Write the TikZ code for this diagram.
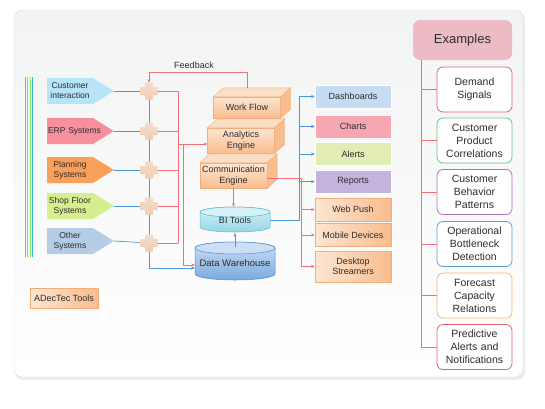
\documentclass[tikz,border=0pt]{standalone}
\usepackage{fontspec}
\setmainfont{Liberation Sans}
\usetikzlibrary{arrows.meta,positioning,calc,shapes.symbols}
\definecolor{cText}{RGB}{45,45,45}
\definecolor{cPanel}{RGB}{242,243,243}
\definecolor{cBorder}{RGB}{218,218,218}
\definecolor{cLBlue}{RGB}{74,150,214}
\definecolor{cLRed}{RGB}{240,112,120}
\definecolor{cCust}{RGB}{182,228,248}
\definecolor{cErp}{RGB}{246,144,157}
\definecolor{cPlan}{RGB}{249,160,90}
\definecolor{cShop}{RGB}{213,238,142}
\definecolor{cOther}{RGB}{181,204,230}
\definecolor{cPlus}{RGB}{240,205,178}
\definecolor{cOrgLt}{RGB}{253,230,210}
\definecolor{cOrgDk}{RGB}{249,188,142}
\definecolor{cOrgLine}{RGB}{244,172,122}
\definecolor{cDash}{RGB}{197,220,243}
\definecolor{cChart}{RGB}{247,166,178}
\definecolor{cAlert}{RGB}{226,237,182}
\definecolor{cRep}{RGB}{196,180,221}
\definecolor{cExHead}{RGB}{237,187,195}
\definecolor{cExRed}{RGB}{226,98,112}
\definecolor{cExGreen}{RGB}{108,190,140}
\definecolor{cExPurple}{RGB}{178,112,192}
\definecolor{cExBlue}{RGB}{92,160,216}
\definecolor{cExAmber}{RGB}{246,184,110}
\definecolor{cBiTop}{RGB}{214,242,246}
\definecolor{cBiBody}{RGB}{150,214,228}
\definecolor{cBiLine}{RGB}{92,182,204}
\definecolor{cDwTop}{RGB}{205,223,245}
\definecolor{cDwBody}{RGB}{122,170,222}
\definecolor{cDwLine}{RGB}{76,140,206}
\tikzset{
	srcbox/.style={signal, signal to=east, signal pointer angle=64, fill=#1,
		minimum height=26, text width=44, inner xsep=1, inner ysep=0,
		align=center, font=\fontsize{8.5}{10}\selectfont, text=cText},
	cubebox/.style={draw=cOrgLine, line width=0.4pt, top color=cOrgLt,
		bottom color=cOrgDk, minimum width=67, align=center, inner sep=1,
		font=\fontsize{9}{10.5}\selectfont, text=cText},
	cubetop/.style={draw=cOrgLine, line width=0.4pt, fill=cOrgLt!80!cOrgDk},
	cubeside/.style={draw=cOrgLine, line width=0.4pt, fill=cOrgDk},
	outbox/.style={fill=#1, draw=white, line width=0.6pt, minimum width=76,
		minimum height=23, align=center, inner sep=1,
		font=\fontsize{9}{10.5}\selectfont, text=cText},
	outorg/.style={draw=cOrgLine, line width=0.5pt, left color=cOrgLt,
		right color=cOrgDk, minimum width=76, minimum height=23, align=center,
		inner sep=1, font=\fontsize{9}{10.5}\selectfont, text=cText},
	exbox/.style={draw=#1, line width=0.8pt, rounded corners=6pt, fill=white,
		minimum width=75, minimum height=45, text width=70, align=center,
		inner sep=0, font=\fontsize{10.5}{13}\selectfont, text=cText},
	plusfill/.style={top color=cPlus!70!white, bottom color=cPlus},
	blarr/.style={-{Stealth[length=3.5pt,width=3pt]}, line width=0.7pt, draw=cLBlue},
	rdarr/.style={-{Stealth[length=3.5pt,width=3pt]}, line width=0.7pt, draw=cLRed},
	blline/.style={line width=0.7pt, draw=cLBlue},
	rdline/.style={line width=0.7pt, draw=cLRed},
}
\begin{document}
\begin{tikzpicture}[x=1pt, y=-1pt]
	\useasboundingbox (0,0) rectangle (545,408);
	% panel
	\fill[black!7, rounded corners=8pt] (15,12) rectangle (525,380);
	\path[top color=cPanel, middle color=cPanel, bottom color=white,
		draw=cBorder, rounded corners=8pt] (14,10) rectangle (523,377);
	\draw[line width=0.9pt, cErp!90!red] (25,77) -- (25,257);
	\draw[line width=0.9pt, cPlan] (27.5,77) -- (27.5,257);
	\draw[line width=0.9pt, cShop!60!green] (30,77) -- (30,257);
	\draw[line width=0.9pt, cLBlue!70!cyan] (32.5,77) -- (32.5,257);

	% sources
	\node[srcbox=cCust] (s1) at (70,91) {Customer\\interaction};
	\node[srcbox=cErp] (s2) at (70,131) {\mbox{ERP Systems}};
	\node[srcbox=cPlan] (s3) at (70,170) {Planning\\Systems};
	\node[srcbox=cShop] (s4) at (70,206) {Shop Floor\\Systems};
	\node[srcbox=cOther] (s5) at (70,241) {Other\\Systems};
	\node[inner sep=0, minimum size=16] (j1) at (149,91) {};
	\node[inner sep=0, minimum size=16] (j2) at (149,131) {};
	\node[inner sep=0, minimum size=16] (j3) at (149,170) {};
	\node[inner sep=0, minimum size=16] (j4) at (149,206) {};
	\node[inner sep=0, minimum size=16] (j5) at (149,243) {};

	% engines
	\node[cubebox, minimum height=21] (wf) at (247,107.5) {Work Flow};
	\draw[cubetop] (wf.north west) -- ++(10,-9) -- ($(wf.north east)+(10,-9)$) -- (wf.north east) -- cycle;
	\draw[cubeside] (wf.north east) -- ++(10,-9) -- ($(wf.south east)+(10,-9)$) -- (wf.south east) -- cycle;
	\node[cubebox, minimum height=25] (ae) at (241,140.5) {Analytics\\Engine};
	\draw[cubetop] (ae.north west) -- ++(10,-9) -- ($(ae.north east)+(10,-9)$) -- (ae.north east) -- cycle;
	\draw[cubeside] (ae.north east) -- ++(10,-9) -- ($(ae.south east)+(10,-9)$) -- (ae.south east) -- cycle;
	\node[cubebox, minimum height=25] (ce) at (233.5,175.5) {Communication\\Engine};
	\draw[cubetop] (ce.north west) -- ++(10,-9) -- ($(ce.north east)+(10,-9)$) -- (ce.north east) -- cycle;
	\draw[cubeside] (ce.north east) -- ++(10,-9) -- ($(ce.south east)+(10,-9)$) -- (ce.south east) -- cycle;

	% cylinders
	\path[top color=cBiTop, bottom color=cBiBody, draw=cBiLine, line width=0.5pt]
		(200,212) -- (200,227) arc[start angle=180, end angle=360, x radius=35pt, y radius=5pt]
		-- (270,212) arc[start angle=0, end angle=180, x radius=35pt, y radius=5pt] -- cycle;
	\draw[fill=cBiTop, draw=cBiLine, line width=0.5pt] (235,212) ellipse[x radius=35pt, y radius=5pt];
	\node[minimum width=70, minimum height=26, inner sep=0,
		font=\fontsize{9}{10.5}\selectfont, text=cText] (bi) at (235,220) {BI Tools};
	\path[top color=cDwTop, bottom color=cDwBody, draw=cDwLine, line width=0.5pt]
		(195,248) -- (195,274) arc[start angle=180, end angle=360, x radius=40pt, y radius=6pt]
		-- (275,248) arc[start angle=0, end angle=180, x radius=40pt, y radius=6pt] -- cycle;
	\draw[fill=cDwTop, draw=cDwLine, line width=0.5pt] (235,248) ellipse[x radius=40pt, y radius=6pt];
	\node[minimum width=80, minimum height=32, inner sep=0,
		font=\fontsize{9.5}{11}\selectfont, text=cText] (dw) at (235,263) {Data Warehouse};

	% outputs
	\node[outbox=cDash] (db) at (353,96.5) {Dashboards};
	\node[outbox=cChart] (ch) at (353,126.5) {Charts};
	\node[outbox=cAlert] (al) at (353,154) {Alerts};
	\node[outbox=cRep] (rp) at (353,181.5) {Reports};
	\node[outorg] (wp) at (353,209.5) {Web Push};
	\node[outorg] (md) at (353,235) {Mobile Devices};
	\node[outorg, minimum height=31] (ds) at (353,266.5) {Desktop\\Streamers};

	\node[outorg, minimum width=68, minimum height=20] (tools) at (64,298) {ADecTec Tools};

	% connectors
	\coordinate (rv1) at (178,91);
	\coordinate (rv2) at (178,243);
	\coordinate (ra) at (178,144);
	\coordinate (rd) at (183,144);
	\foreach \n in {1,...,5}{
		\draw[blline] (s\n.east) -- (j\n);
		\draw[rdline] (j\n) -- (j\n -| rv1);
	}
	\draw[rdline] (rv1) -- (rv2);
	\draw[rdarr] (ra) -- (ra -| ae.west);
	\draw[rdarr] (rd) |- ($(dw.west)+(0,2)$);
	\draw[blarr] (j1) |- ($(dw.west)+(0,5)$);
	\draw[rdarr] ($(wf.north)+(0,-9)$) -- ++(0,-15) -| (j1.north);
	\node[font=\fontsize{9}{10.5}\selectfont, text=cText] (fb) at (194,65) {Feedback};
	\foreach \n in {1,...,5}
		\path[plusfill] ($(j\n)+(-4,-8.5)$) rectangle ($(j\n)+(4,8.5)$)
			($(j\n)+(-8.5,-4)$) rectangle ($(j\n)+(8.5,4)$);
	\draw[rdarr] (ce.south) -- (ce.south |- bi.north);
	\draw[blarr] (dw.north) -- (bi.south);

	\coordinate (bb) at (299,96.5);
	\draw[blline] (bi.east) -| (bb);
	\foreach \b in {db,ch,al,rp}
		\draw[blarr] (bb |- \b.west) -- (\b.west);
	\coordinate (rb) at (301,266.5);
	\draw[rdline] ($(ce.east)+(0,3)$) -| (rb);
	\foreach \b in {wp,md,ds}
		\draw[rdarr] (rb |- \b.west) -- (\b.west);

	% examples
	\node[fill=cExHead, rounded corners=7pt, minimum width=99, minimum height=40,
		font=\fontsize{13}{15}\selectfont, text=cText] (ex) at (462.5,40) {Examples};
	\node[exbox=cExRed] (e1) at (474.5,89.5) {Demand\\Signals};
	\node[exbox=cExGreen] (e2) at (474.5,140.5) {Customer\\Product\\Correlations};
	\node[exbox=cExPurple] (e3) at (474.5,192) {Customer\\Behavior\\Patterns};
	\node[exbox=cExBlue] (e4) at (474.5,244) {Operational\\Bottleneck\\Detection};
	\node[exbox=cExAmber] (e5) at (474.5,295.5) {Forecast\\Capacity\\Relations};
	\node[exbox=cExRed] (e6) at (474.5,347) {Predictive\\Alerts and\\Notifications};
	\coordinate (et) at (421,60);
	\coordinate (eb) at (421,347);
	\draw[rdline] (et) -- (eb);
	\foreach \e in {e1,e2,e3,e4,e5,e6}
		\draw[rdline] (et |- \e.west) -- (\e.west);
\end{tikzpicture}
\end{document}
